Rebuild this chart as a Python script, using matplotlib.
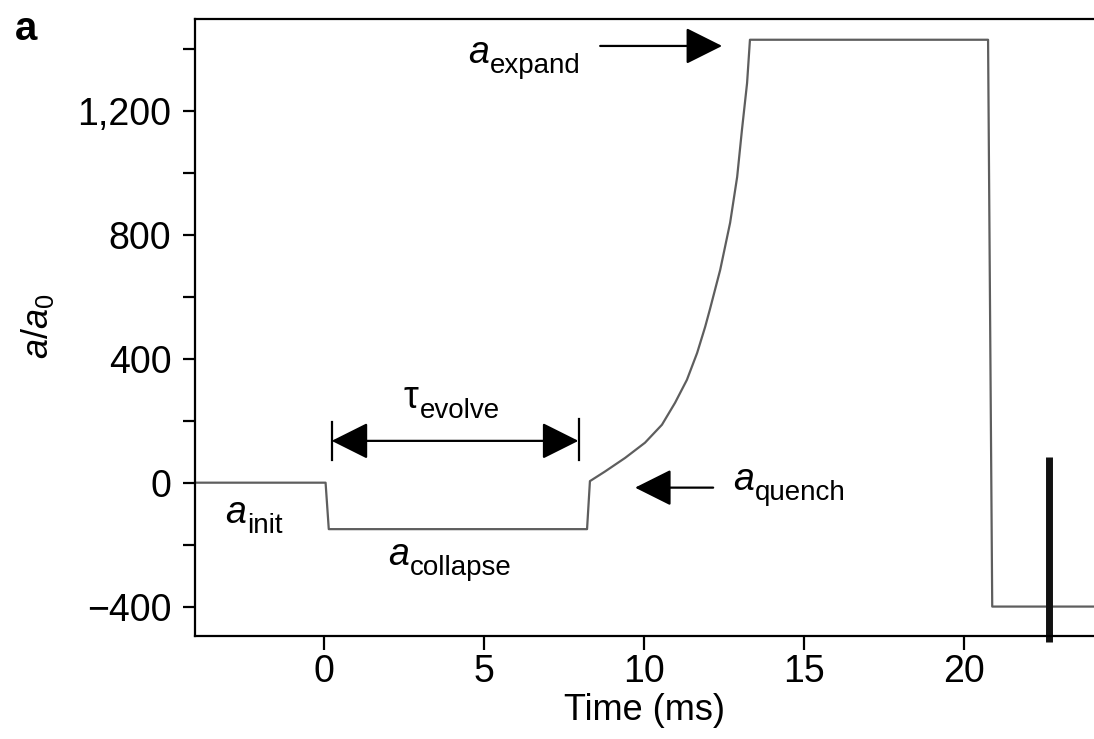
import matplotlib
matplotlib.use("Agg")
import matplotlib.pyplot as plt
from matplotlib.ticker import FixedLocator, FixedFormatter, MultipleLocator

plt.rcParams['font.family'] = ['Liberation Sans', 'DejaVu Sans']
plt.rcParams['mathtext.fontset'] = 'custom'
plt.rcParams['mathtext.rm'] = 'Liberation Sans'
plt.rcParams['mathtext.it'] = 'Liberation Sans:italic'

# scattering length sequence (time in ms, a/a0)
t_ms = [-4.0, 0.05, 0.15, 8.22, 8.31, 8.78, 9.41, 10.03, 10.56, 10.97,
        11.34, 11.66, 11.91, 12.06, 12.38, 12.69, 12.91, 13.06, 13.22,
        13.31, 20.75, 20.88, 24.5]
a_ratio = [0, 0, -150, -150, 5, 36, 80, 129, 187, 258,
           332, 419, 503, 560, 687, 839, 987, 1139, 1290,
           1430, 1430, -400, -400]

# imaging pulse marker
probe_t = 22.66
probe_a = [84, -513]

xticks = [0, 5, 10, 15, 20]
yticks = [-400, 0, 400, 800, 1200]
ytick_labels = ['\u2212400', '0', '400', '800', '1,200']

fig = plt.figure(figsize=(10.94, 7.39), dpi=100)
ax = fig.add_axes([195 / 1094, 1 - 636 / 739, 1 - 195 / 1094, (636 - 19) / 739])

ax.plot(t_ms, a_ratio, color='#5e5e5e', lw=1.6)
ax.plot([probe_t, probe_t], probe_a, color='#111111', lw=5,
        solid_capstyle='butt', clip_on=False)

ax.set_xlim(-4.03, 24.06)
ax.set_ylim(-495, 1497)

ax.spines['right'].set_visible(False)
for s in ['left', 'bottom', 'top']:
    ax.spines[s].set_linewidth(1.6)

ax.xaxis.set_major_locator(FixedLocator(xticks))
ax.yaxis.set_major_locator(FixedLocator(yticks))
ax.yaxis.set_major_formatter(FixedFormatter(ytick_labels))
ax.yaxis.set_minor_locator(MultipleLocator(200))
ax.tick_params(axis='both', which='both', direction='out', width=1.6,
               labelsize=27, top=False, right=False)
ax.tick_params(axis='x', length=10, pad=3)
ax.tick_params(axis='y', which='both', length=9, pad=8)

ax.set_xlabel('Time (ms)', fontsize=26, labelpad=2)
fig.text(37 / 1094, 1 - 326 / 739, r'$a/a_0$', fontsize=26, rotation=90,
         ha='center', va='center')
fig.text(15 / 1094, 1 - 40 / 739, 'a', fontsize=29, fontweight='bold',
         ha='left', va='baseline')


def sub_label(x, y, main, sub, italic=True, dx=16):
    ax.text(x, y, main, fontsize=27, style='italic' if italic else 'normal',
            ha='left', va='baseline')
    ax.annotate(sub, (x, y), xytext=(dx, -7.5), textcoords='offset points',
                fontsize=20, ha='left', va='baseline')


sub_label(4.5, 1355, 'a', 'expand')
sub_label(12.78, -23, 'a', 'quench')
sub_label(-3.1, -129, 'a', 'init')
sub_label(2.0, -265, 'a', 'collapse')
sub_label(2.5, 242, '\u03c4', 'evolve', italic=False, dx=11.5)

head = '-|>,head_length=1.0,head_width=0.5'
ax.annotate('', xy=(12.44, 1410), xytext=(8.63, 1410),
            arrowprops=dict(arrowstyle=head, mutation_scale=23, color='black',
                            lw=1.6, shrinkA=0, shrinkB=0))
ax.annotate('', xy=(9.72, -16), xytext=(12.16, -16),
            arrowprops=dict(arrowstyle=head, mutation_scale=23, color='black',
                            lw=1.6, shrinkA=0, shrinkB=0))
ax.annotate('', xy=(0.24, 135), xytext=(7.95, 135),
            arrowprops=dict(arrowstyle='<|-|>,head_length=1.0,head_width=0.5',
                            mutation_scale=23, color='black', lw=1.6,
                            shrinkA=0, shrinkB=0))
ax.plot([0.24, 0.24], [74, 197], color='black', lw=1.6)
ax.plot([7.97, 7.97], [74, 207], color='black', lw=1.6)

fig.savefig('out.png', dpi=100)
